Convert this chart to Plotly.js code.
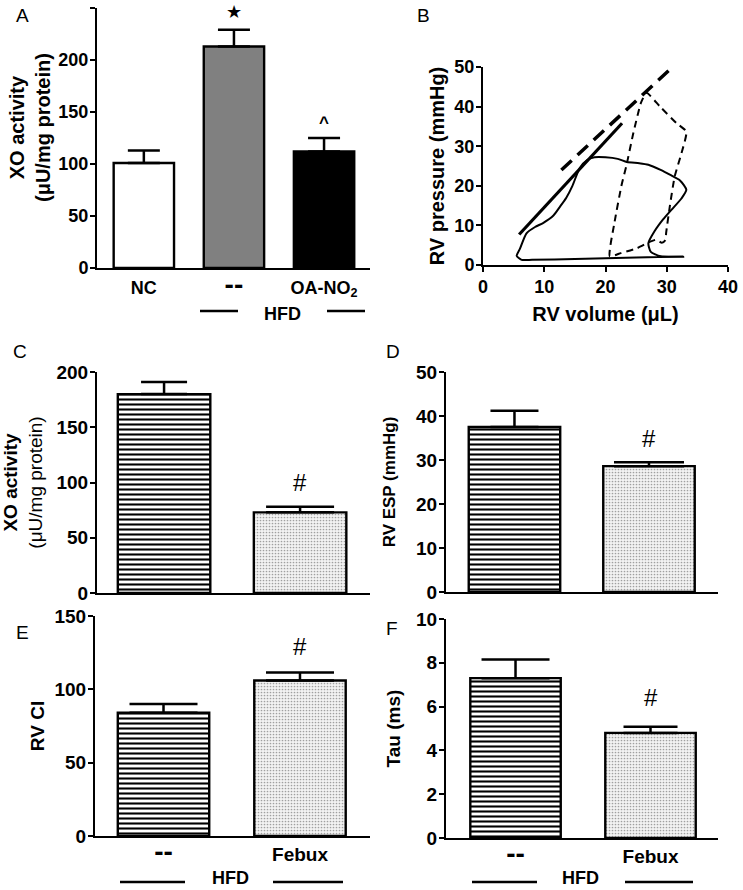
<!DOCTYPE html>
<html>
<head>
<meta charset="utf-8">
<script src="https://cdn.plot.ly/plotly-3.0.1.min.js"></script>
<style>html,body{margin:0;padding:0;background:#fff;}#chart{width:743px;height:890px;}</style>
</head>
<body>
<div id="chart"></div>
<script>
// ---------- DATA ----------
// Panel A
const catsA = ['NC', '--', 'OA-NO<sub>2</sub>'];
const valsA = [101, 213, 112];
const errA = [12, 16, 13];
// Panel B (pressure-volume loops)
const espvrSolidX = [5.9, 22.7];
const espvrSolidY = [7.7, 35.8];
const espvrDashX = [12.8, 32.7];
const espvrDashY = [24.0, 52.5];
const loopSolidX = [5.5, 6.0, 7.1, 8.5, 9.8, 11.5, 12.6, 13.6, 14.6, 15.8, 17.0, 18.2, 20.0, 22.0, 23.5, 25.5, 27.0, 29.0, 30.5, 32.2, 33.2, 32.4, 30.8, 29.4, 28.0, 27.0, 27.4, 29.0, 32.7, 25.0, 15.0, 8.0, 6.3, 5.5];
const loopSolidY = [2.3, 4.0, 8.0, 9.6, 10.6, 12.5, 14.8, 17.0, 20.0, 24.5, 26.5, 27.2, 27.2, 26.8, 26.0, 25.7, 25.3, 24.0, 22.8, 21.3, 19.0, 16.8, 14.0, 11.5, 8.5, 5.5, 3.3, 2.2, 2.1, 1.9, 1.5, 1.3, 1.3, 2.3];
const loopDashX = [20.7, 21.5, 22.6, 23.4, 24.5, 25.8, 26.7, 28.9, 31.6, 33.2, 32.4, 31.3, 30.5, 29.9, 29.8, 29.2, 28.3, 27.3, 25.1, 22.5, 20.7];
const loopDashY = [2.2, 11.0, 20.0, 25.0, 33.0, 41.0, 43.5, 40.0, 35.8, 33.7, 28.2, 22.4, 14.8, 8.1, 6.3, 5.6, 6.4, 5.9, 4.2, 3.0, 2.2];
// Panels C-F
const catsHFD = ['--', 'Febux'];
const valsC = [180, 73];
const errC = [11, 5];
const valsD = [37.5, 28.6];
const errD = [3.7, 0.9];
const valsE = [84, 106];
const errE = [6, 5.5];
const valsF = [7.3, 4.8];
const errF = [0.85, 0.28];

// ---------- STYLE ----------
const FF = 'Liberation Sans, Arial, sans-serif';
const bold = (s) => ({family: FF, size: s, color: '#000', weight: 'bold'});
const bigDash = (c) => c === '--' ? '<span style="font-size:28px">--</span>' : c;

const traces = [];

function barTrace(cat, val, err, xa, ya, style, w, ew) {
  return {
    type: 'bar', x: [cat], y: [val], xaxis: xa, yaxis: ya, width: w,
    marker: Object.assign({line: {color: '#000', width: 2.4}}, style),
    error_y: {type: 'data', array: [err], arrayminus: [0], symmetric: false,
              color: '#000', thickness: 2.5, width: ew},
    showlegend: false, hoverinfo: 'x+y'
  };
}
const hatch = {color: '#fff', pattern: {shape: '-', size: 5, solidity: 0.42, fgcolor: '#000', bgcolor: '#fff', fillmode: 'replace'}};
const dots = {color: '#eee', pattern: {shape: '.', size: 3, solidity: 0.25, fgcolor: '#a0a0a0', bgcolor: '#f3f3f3', fillmode: 'replace'}};

// A
const colorsA = ['#ffffff', '#808080', '#000000'];
for (let i = 0; i < catsA.length; i++) {
  traces.push(barTrace(catsA[i], valsA[i], errA[i], 'x', 'y', {color: colorsA[i]}, 0.67, 16));
}
// B
traces.push({type: 'scatter', mode: 'lines', x: loopSolidX, y: loopSolidY, xaxis: 'x2', yaxis: 'y2',
  line: {color: '#000', width: 2, shape: 'spline', smoothing: 0.6}, showlegend: false});
traces.push({type: 'scatter', mode: 'lines', x: loopDashX, y: loopDashY, xaxis: 'x2', yaxis: 'y2',
  line: {color: '#000', width: 2, dash: '7px,5px', shape: 'spline', smoothing: 0.5}, showlegend: false});
traces.push({type: 'scatter', mode: 'lines', x: espvrSolidX, y: espvrSolidY, xaxis: 'x2', yaxis: 'y2',
  line: {color: '#000', width: 3.2}, showlegend: false});
traces.push({type: 'scatter', mode: 'lines', x: espvrDashX, y: espvrDashY, xaxis: 'x2', yaxis: 'y2',
  line: {color: '#000', width: 3.5, dash: '14px,8px'}, showlegend: false});
// C-F
const styles = [hatch, dots];
const panels = [
  {v: valsC, e: errC, xa: 'x3', ya: 'y3', ew: [23, 34], w: 0.68},
  {v: valsD, e: errD, xa: 'x4', ya: 'y4', ew: [24, 35], w: 0.68},
  {v: valsE, e: errE, xa: 'x5', ya: 'y5', ew: [34, 34], w: 0.67},
  {v: valsF, e: errF, xa: 'x6', ya: 'y6', ew: [34, 27], w: 0.67}
];
panels.forEach(p => {
  for (let i = 0; i < catsHFD.length; i++) {
    traces.push(barTrace(catsHFD[i], p.v[i], p.e[i], p.xa, p.ya, styles[i], p.w, p.ew[i]));
  }
});

function yax(dom, range, dtick, tsize, title, extra) {
  const o = {
    domain: dom, range: range, dtick: dtick, showgrid: false, zeroline: false,
    showline: true, linecolor: '#000', linewidth: 2, ticks: 'outside', ticklen: 5, tickwidth: 2,
    tickcolor: '#000', tickfont: bold(tsize), fixedrange: true, ticklabelstandoff: -2
  };
  if (title) o.title = title;
  return Object.assign(o, extra || {});
}
function xcat(dom, range, anchor, cats, showLabels, tsize, standoff) {
  return {
    domain: dom, range: range, type: 'category', anchor: anchor, showgrid: false, zeroline: false,
    showline: true, linecolor: '#000', linewidth: 2, ticks: '', tickfont: bold(tsize),
    tickmode: 'array', tickvals: cats, ticktext: cats.map(bigDash),
    showticklabels: showLabels, fixedrange: true, ticklabelstandoff: standoff
  };
}

const P = (px) => px / 743;
const Q = (py) => 1 - py / 890;

const layout = {
  width: 743, height: 890, margin: {l: 0, r: 0, t: 0, b: 0},
  paper_bgcolor: '#fff', plot_bgcolor: 'rgba(0,0,0,0)', barmode: 'overlay', showlegend: false,
  font: {family: FF, color: '#000'},
  xaxis: xcat([P(97), P(370)], [-0.52, 2.51], 'y', catsA, true, 18, 2),
  yaxis: yax([Q(268), Q(8)], [0, 250], 50, 18, null, {anchor: 'x'}),
  xaxis2: {domain: [P(483), P(728)], range: [0, 40], dtick: 10, anchor: 'y2', showgrid: false, zeroline: false,
    showline: true, linecolor: '#000', linewidth: 2, ticks: 'outside', ticklen: 5, tickwidth: 2, tickcolor: '#000',
    tickfont: bold(18), fixedrange: true, ticklabelstandoff: -1,
    title: {text: 'RV volume (μL)', font: bold(20), standoff: 11}},
  yaxis2: yax([Q(265), Q(67)], [0, 50], 10, 18, {text: 'RV pressure (mmHg)', font: bold(20), standoff: 4}, {anchor: 'x2'}),
  xaxis3: xcat([P(97), P(370)], [-0.493, 1.514], 'y3', catsHFD, false, 19, 2),
  yaxis3: yax([Q(593), Q(372)], [0, 200], 50, 19,
    {text: '<b>XO activity</b><br>(μU/mg protein)', font: {family: FF, size: 19, color: '#000'}, standoff: 9}, {anchor: 'x3'}),
  xaxis4: xcat([P(446), P(718)], [-0.509, 1.513], 'y4', catsHFD, false, 19, 2),
  yaxis4: yax([Q(592), Q(372)], [0, 50], 10, 19, {text: 'RV ESP (mmHg)', font: bold(17), standoff: 16}, {anchor: 'x4'}),
  xaxis5: xcat([P(95), P(370)], [-0.502, 1.513], 'y5', catsHFD, true, 19, 0),
  yaxis5: yax([Q(836), Q(616)], [0, 150], 50, 19, {text: 'RV CI', font: bold(19), standoff: 5}, {anchor: 'x5'}),
  xaxis6: xcat([P(446), P(718)], [-0.515, 1.5], 'y6', catsHFD, true, 19, 0),
  yaxis6: yax([Q(838), Q(619)], [0, 10], 2, 19, {text: 'Tau (ms)', font: bold(19), standoff: 10}, {anchor: 'x6'}),
  shapes: [],
  annotations: []
};

// Panel A y title
layout.annotations.push({xref: 'paper', yref: 'paper', x: P(30), y: Q(128), textangle: -90,
  text: 'XO activity<br>(μU/mg protein)', showarrow: false, xanchor: 'center', yanchor: 'middle',
  font: bold(20)});

// HFD group lines
const hfdLines = [
  [200, 238, 311], [327, 365, 311],
  [120, 185, 882], [273, 343, 882],
  [472, 537, 882], [625, 693, 882]
];
hfdLines.forEach(l => layout.shapes.push({type: 'line', xref: 'paper', yref: 'paper',
  x0: P(l[0]), x1: P(l[1]), y0: Q(l[2]), y1: Q(l[2]), line: {color: '#000', width: 2.5}}));
layout.annotations.push({xref: 'paper', yref: 'paper', x: P(282), y: Q(314), text: 'HFD', showarrow: false,
  xanchor: 'center', yanchor: 'middle', font: bold(18)});
[230, 580].forEach(px => layout.annotations.push({
  xref: 'paper', yref: 'paper', x: P(px), y: 0, text: 'HFD', showarrow: false,
  xanchor: 'center', yanchor: 'bottom', font: bold(18)}));

// panel letters
[['A', 22, 16], ['B', 423, 16], ['C', 20, 352], ['D', 393, 352], ['E', 22, 632], ['F', 392, 628]].forEach(t =>
  layout.annotations.push({xref: 'paper', yref: 'paper', x: P(t[1]), y: Q(t[2]), text: t[0], showarrow: false,
    xanchor: 'center', yanchor: 'middle', font: {family: FF, size: 19, color: '#000'}}));

// significance marks
const sig = [
  ['x', 'y', catsA[1], 246, '★', 18, 'normal'],
  ['x', 'y', catsA[2], 140, '^', 17, 'bold'],
  ['x3', 'y3', catsHFD[1], 100, '#', 24, 'normal'],
  ['x4', 'y4', catsHFD[1], 35, '#', 24, 'normal'],
  ['x5', 'y5', catsHFD[1], 129, '#', 24, 'normal'],
  ['x6', 'y6', catsHFD[1], 6.4, '#', 24, 'normal']
];
sig.forEach(s => layout.annotations.push({xref: s[0], yref: s[1], x: s[2], y: s[3], text: s[4], showarrow: false,
  xanchor: 'center', yanchor: 'middle', font: {family: FF, size: s[5], color: '#000', weight: s[6]}}));

Plotly.newPlot('chart', traces, layout, {staticPlot: true, displayModeBar: false});
</script>
</body>
</html>
